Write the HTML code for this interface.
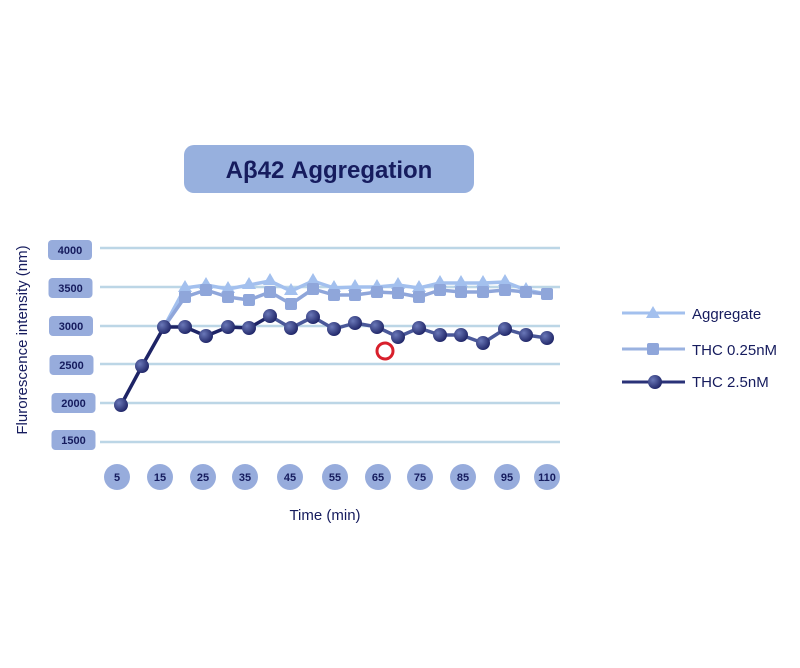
<!DOCTYPE html>
<html><head><meta charset="utf-8"><style>
body{margin:0;background:#fff;}
svg{display:block;font-family:"Liberation Sans",sans-serif;}
</style></head><body>
<svg id="s" width="800" height="668" viewBox="0 0 800 668" xmlns="http://www.w3.org/2000/svg">
<defs>
<radialGradient id="g" cx="0.35" cy="0.35" r="0.7"><stop offset="0" stop-color="#6a78b8"/><stop offset="1" stop-color="#1e2466"/></radialGradient>
</defs>
<rect x="184" y="145" width="290" height="48" rx="10" fill="#97b0de"/>
<text x="329" y="178" text-anchor="middle" font-size="24" font-weight="bold" fill="#161c5e">Aβ42  Aggregation</text>
<g stroke="#bcd6e6" stroke-width="2.5">
<line x1="100" y1="248" x2="560" y2="248"/><line x1="100" y1="287" x2="560" y2="287"/>
<line x1="100" y1="326" x2="560" y2="326"/><line x1="100" y1="364" x2="560" y2="364"/>
<line x1="100" y1="403" x2="560" y2="403"/><line x1="100" y1="442" x2="560" y2="442"/>
</g>
<g id="yl" font-size="11" font-weight="bold" fill="#161c5e" text-anchor="middle"></g>
<g id="xl" font-size="11" font-weight="bold" fill="#161c5e" text-anchor="middle"></g>
<g id="data"></g>
<circle cx="385" cy="351" r="8" fill="none" stroke="#d8202c" stroke-width="3"/>
<text x="325" y="520" text-anchor="middle" font-size="15" fill="#161c5e">Time (min)</text>
<text transform="translate(27,340) rotate(-90)" text-anchor="middle" font-size="15" fill="#161c5e">Flurorescence intensity (nm)</text>
<line x1="622" y1="313" x2="685" y2="313" stroke="#a3c0ee" stroke-width="3"/>
<polygon points="653,306 660,318 646,318" fill="#a3c0ee"/>
<text x="692" y="319" font-size="15" fill="#161c5e">Aggregate</text>
<line x1="622" y1="349" x2="685" y2="349" stroke="#9ab2e0" stroke-width="3"/>
<rect x="647" y="343" width="12" height="12" rx="2" fill="#8fa6da"/>
<text x="692" y="355" font-size="15" fill="#161c5e">THC 0.25nM</text>
<line x1="622" y1="382" x2="685" y2="382" stroke="#2a3278" stroke-width="3"/>
<circle cx="655" cy="382" r="7" fill="url(#g)"/>
<text x="692" y="387" font-size="15" fill="#161c5e">THC 2.5nM</text>
</svg>
<script>
var NS="http://www.w3.org/2000/svg";
function el(p,t,a,txt){var e=document.createElementNS(NS,t);for(var k in a)e.setAttribute(k,a[k]);if(txt)e.textContent=txt;document.getElementById(p).appendChild(e);return e;}
var yl=[["4000",240],["3500",278],["3000",316],["2500",355],["2000",393],["1500",430]];
yl.forEach(function(v,i){var x=48+Math.min(i,3)*0.5+(i>3?2:0);el("yl","rect",{x:x,y:v[1],width:44,height:20,rx:4,fill:"#97acdc"});el("yl","text",{x:x+22,y:v[1]+14},v[0]);});
var xl=[[117,"5"],[160,"15"],[203,"25"],[245,"35"],[290,"45"],[335,"55"],[378,"65"],[420,"75"],[463,"85"],[507,"95"],[547,"110"]];
xl.forEach(function(v){el("xl","circle",{cx:v[0],cy:477,r:13,fill:"#97acdc"});el("xl","text",{x:v[0],y:481},v[1]);});
var xs=[121,142,164,185,206,228,249,270,291,313,334,355,377,398,419,440,461,483,505,526,547];
var dk=[405,366,327,327,336,327,328,316,328,317,329,323,327,337,328,335,335,343,329,335,338];
var sq=[327,297,290,297,300,292,304,289,295,295,292,293,297,290,292,292,290,292,294];
var tr=[327,288,285,289,285,281,291,281,288,287,287,285,288,283,283,283,282,290];
function pts(arr,off){return arr.map(function(y,i){return xs[i+off]+","+y;}).join(" ");}
el("data","polyline",{points:pts(tr,2)+" 547,294",fill:"none",stroke:"#a3c0ee","stroke-width":3.5,"stroke-linejoin":"round"});
el("data","polyline",{points:pts(sq,2),fill:"none",stroke:"#8fa6da","stroke-width":3.5,"stroke-linejoin":"round"});
tr.forEach(function(y,i){if(i==0)return;var x=xs[i+2];el("data","polygon",{points:(x)+","+(y-8)+" "+(x+7)+","+(y+4)+" "+(x-7)+","+(y+4),fill:"#a3c0ee"});});
sq.forEach(function(y,i){if(i==0)return;var x=xs[i+2];el("data","rect",{x:x-6,y:y-6,width:12,height:12,rx:2,fill:"#8fa6da"});});
el("data","polyline",{points:pts(dk.slice(0,8),0),fill:"none",stroke:"#1e2466","stroke-width":3.5,"stroke-linejoin":"round"});
el("data","polyline",{points:pts(dk.slice(7),7),fill:"none",stroke:"#4a5899","stroke-width":3.5,"stroke-linejoin":"round"});
dk.forEach(function(y,i){el("data","circle",{cx:xs[i],cy:y,r:7,fill:"url(#g)"});});
</script>
</body></html>
